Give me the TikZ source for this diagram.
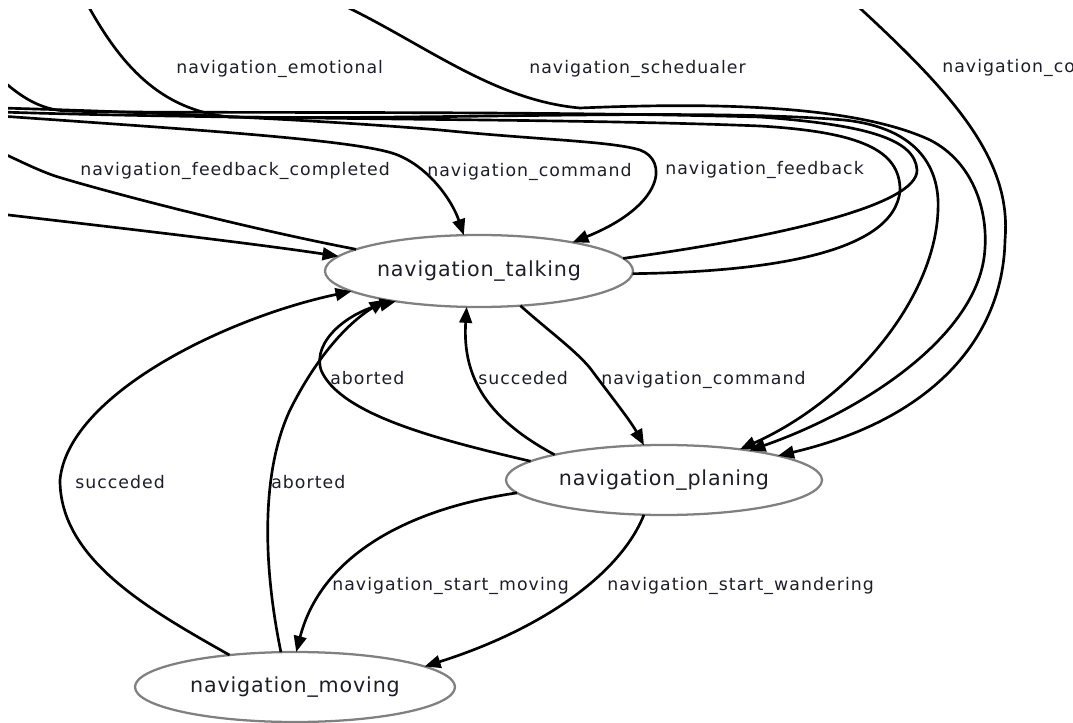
\documentclass[tikz,border=0pt]{standalone}
\usepackage{fontspec}
\setmainfont{DejaVu Sans}
\newfontfamily\edgefont[LetterSpace=6]{DejaVu Sans}
\newfontfamily\statefont[LetterSpace=4]{DejaVu Sans}
\usetikzlibrary{shapes.geometric,arrows.meta}
\definecolor{edgeink}{HTML}{000000}
\definecolor{stateline}{HTML}{808080}
\definecolor{labelink}{HTML}{1E1E2A}
\begin{document}
\begin{tikzpicture}[x=0.75pt,y=-0.75pt,
  state/.style={ellipse, draw=stateline, line width=1.7pt, inner sep=0pt, outer sep=0pt,
    font=\statefont\fontsize{15.5pt}{18pt}\selectfont, text=labelink},
  wire/.style={draw=edgeink, line width=2pt},
  arrowed/.style={-{Triangle[length=12pt,width=9.5pt]}},
  lbl/.style={anchor=base west, inner sep=0pt, text=labelink,
    font=\edgefont\fontsize{13pt}{15pt}\selectfont}]
\fill[white] (0,0) rectangle (1073,723);
\useasboundingbox (0,0) rectangle (1073,723);
\clip (8,10) rectangle (1073,723);

% states
\node[state, minimum width=231pt, minimum height=54pt] (T) at (479,271) {navigation\_talking};
\node[state, minimum width=237pt, minimum height=52.5pt] (P) at (664,480) {navigation\_planing};
\node[state, minimum width=240pt, minimum height=52.5pt] (M) at (295,687) {navigation\_moving};

% free ends of the transitions that leave the drawing
\coordinate (inEmo)   at (85,0);
\coordinate (inSched) at (332,0);
\coordinate (inCo)    at (851,0);
\coordinate (inLeftA) at (0,108);
\coordinate (inLeftB) at (0,116);
\coordinate (inLeftC) at (0,214);
\coordinate (outLeftA) at (2,80);
\coordinate (outLeftB) at (0,112);
\coordinate (outLeftC) at (0,152);

% transitions arriving from the left and from above
\draw[wire,arrowed] (inLeftB) .. controls (200,130) and (355,140) .. (395,154)
  .. controls (428,166) and (452,200) .. (T.113);
\draw[wire,arrowed] (inLeftA) .. controls (150,112) and (320,120) .. (440,130)
  .. controls (540,140) and (610,141) .. (640,150)
  .. controls (668,160) and (665,205) .. (T.17);
\draw[wire,arrowed] (inLeftC) .. controls (120,228) and (250,243) .. (T.174);
\draw[wire] (T.170) .. controls (240,227) and (100,190) .. (55,176)
  .. controls (35,169) and (18,160) .. (outLeftC);

% loops leaving navigation_talking to the right and running back along the top
\draw[wire] (T.5.6) .. controls (780,237) and (918,205) .. (917,170)
  .. controls (915,140) and (870,125) .. (760,117)
  .. controls (500,110) and (150,114) .. (67,111)
  .. controls (40,110) and (20,96) .. (outLeftA);
\draw[wire] (T.-1) .. controls (760,272) and (895,255) .. (900,190)
  .. controls (900,150) and (860,132) .. (760,126)
  .. controls (560,118) and (250,120) .. (outLeftB);

% long transitions into navigation_planing
\draw[wire,arrowed] (inEmo) .. controls (120,65) and (160,110) .. (230,117)
  .. controls (450,120) and (700,108) .. (844,120)
  .. controls (920,128) and (940,170) .. (938,210)
  .. controls (935,300) and (850,400) .. (P.22);
\draw[wire,arrowed] (inSched) .. controls (420,40) and (490,100) .. (580,108)
  .. controls (700,103) and (850,103) .. (930,140)
  .. controls (975,163) and (990,215) .. (984,258)
  .. controls (972,340) and (860,412) .. (P.19.6);
\draw[wire,arrowed] (inCo) .. controls (955,95) and (1012,160) .. (1005,240)
  .. controls (1003,340) and (930,420) .. (P.12.3);

% transitions between the three states
\draw[wire,arrowed] (T.-40) .. controls (550,332) and (575,350) .. (590,368)
  .. controls (610,395) and (630,420) .. (P.120);
\draw[wire,arrowed] (P.172.5) .. controls (440,440) and (340,415) .. (321,370)
  .. controls (312,340) and (350,312) .. (T.-160);
\draw[wire,arrowed] (P.167.6) .. controls (490,420) and (462,380) .. (T.-109);
\draw[wire,arrowed] (P.-175) .. controls (400,510) and (320,560) .. (M.88.4);
\draw[wire,arrowed] (P.-120) .. controls (620,575) and (540,630) .. (M.9);
\draw[wire,arrowed] (M.112) .. controls (262,560) and (262,470) .. (290,410)
  .. controls (315,360) and (345,325) .. (T.-163);
\draw[wire,arrowed] (M.154) .. controls (150,610) and (60,560) .. (60,480)
  .. controls (68,395) and (225,318) .. (T.-171);

% transition labels
\node[lbl] (lEmo)    at (176,74)  {navigation\_emotional};
\node[lbl] (lSched)  at (529,74)  {navigation\_schedualer};
\node[lbl] (lCo)     at (942,73)  {navigation\_co};
\node[lbl] (lFbDone) at (80,176)  {navigation\_feedback\_completed};
\node[lbl] (lCmdTop) at (427,177) {navigation\_command};
\node[lbl] (lFb)     at (665,175) {navigation\_feedback};
\node[lbl] (lAbTP)   at (330,384) {aborted};
\node[lbl] (lSuTP)   at (478,384) {succeded};
\node[lbl] (lCmdMid) at (601,384) {navigation\_command};
\node[lbl] (lSuTM)   at (75,488)  {succeded};
\node[lbl] (lAbTM)   at (271,488) {aborted};
\node[lbl] (lMove)   at (332,590) {navigation\_start\_moving};
\node[lbl] (lWander) at (607,590) {navigation\_start\_wandering};
\end{tikzpicture}
\end{document}
